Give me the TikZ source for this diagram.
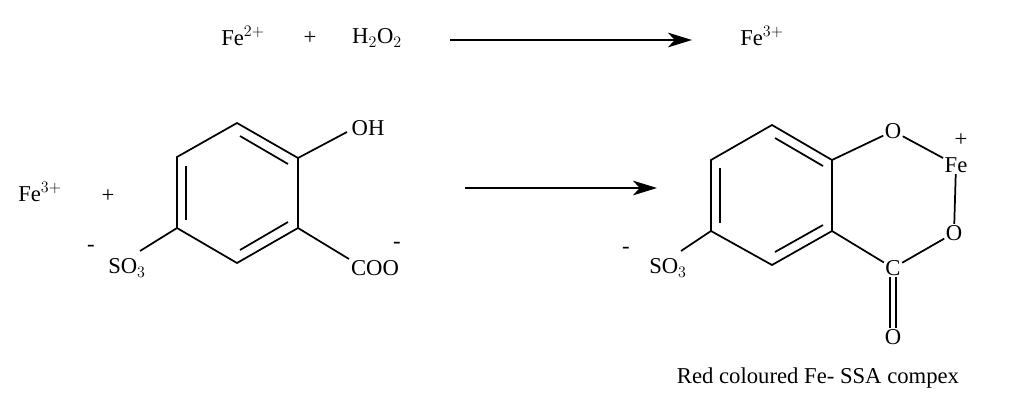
\documentclass[tikz,border=0pt]{standalone}
\usepackage{fontspec}
\setmainfont{Liberation Serif}
\usetikzlibrary{arrows.meta}
\begin{document}
\begin{tikzpicture}[x=0.75pt,y=-0.75pt,
  txt/.style={inner sep=0pt,font=\fontsize{17}{20}\selectfont},
  bond/.style={line width=1.3pt},
  arr/.style={line width=1.3pt,-{Stealth[length=18pt,width=11pt,inset=5pt]}},
  lbl/.style={inner sep=1pt,font=\fontsize{17}{20}\selectfont}]
\useasboundingbox (0,0) rectangle (1010,408);
% top reaction
\node[txt] (fe2) at (243,36) {Fe$^{2+}$};
\node[txt] (p1) at (310,38) {+};
\node[txt] (h2o2) at (377,38) {H$_2$O$_2$};
\node[txt] (fe3a) at (762,36) {Fe$^{3+}$};
\coordinate (a1s) at (450,40); \coordinate (a1e) at (692,40);
\draw[arr] (a1s) -- (a1e);
% left
\node[txt] (fe3b) at (40,192) {Fe$^{3+}$};
\node[txt] (p2) at (108,196) {+};
% left ring
\coordinate (L1) at (237,123); \coordinate (L2) at (298,158); \coordinate (L3) at (298,228);
\coordinate (L4) at (237,263); \coordinate (L5) at (177,228); \coordinate (L6) at (177,157);
\draw[bond] (L1)--(L2)--(L3)--(L4)--(L5)--(L6)--cycle;
\draw[bond] (186,166) -- (186,220);
\draw[bond] (240,136) -- (288,164);
\draw[bond] (240,250) -- (288,222);
\node[lbl] (oh) at (368,128) {OH};
\node[lbl] (coo) at (375,268) {COO};
\node[txt] (m1) at (397,245) {-};
\node[lbl] (so3a) at (127,268) {SO$_3$};
\node[txt] (m2) at (91,248) {-};
\coordinate (ohb) at (347,132); \coordinate (coob) at (349,259); \coordinate (so3ab) at (140,251);
\draw[bond] (L2) -- (ohb);
\draw[bond] (L3) -- (coob);
\draw[bond] (L5) -- (so3ab);
% middle arrow
\coordinate (a2s) at (465,188); \coordinate (a2e) at (657,188);
\draw[arr] (a2s) -- (a2e);
% right ring
\coordinate (R1) at (772,125); \coordinate (R2) at (832,160); \coordinate (R3) at (832,231);
\coordinate (R4) at (772,265); \coordinate (R5) at (711,231); \coordinate (R6) at (711,160);
\draw[bond] (R1)--(R2)--(R3)--(R4)--(R5)--(R6)--cycle;
\draw[bond] (720,168) -- (720,223);
\draw[bond] (775,138) -- (823,166);
\draw[bond] (775,252) -- (823,225);
\node[lbl] (o1) at (893,131) {O};
\node[lbl] (fe) at (956,165) {Fe};
\node[txt] (pl) at (961,140) {+};
\node[lbl] (o2) at (954,233) {O};
\node[lbl] (c) at (893,268) {C};
\node[lbl] (o3) at (893,337) {O};
\node[lbl] (so3b) at (668,268) {SO$_3$};
\node[txt] (m3) at (626,250) {-};
\coordinate (so3bb) at (681,251);
\draw[bond] (R2) -- (o1);
\draw[bond] (o1) -- (fe);
\draw[bond] (fe) -- (o2);
\draw[bond] (o2) -- (c);
\draw[bond] (R3) -- (c);
\draw[bond] ([xshift=-2.5pt]c.south) -- ([xshift=-2.5pt]o3.north);
\draw[bond] ([xshift=2.5pt]c.south) -- ([xshift=2.5pt]o3.north);
\draw[bond] (R5) -- (so3bb);
\node[txt] (cap) at (818,378) {Red coloured Fe- SSA compex};
\end{tikzpicture}
\end{document}
